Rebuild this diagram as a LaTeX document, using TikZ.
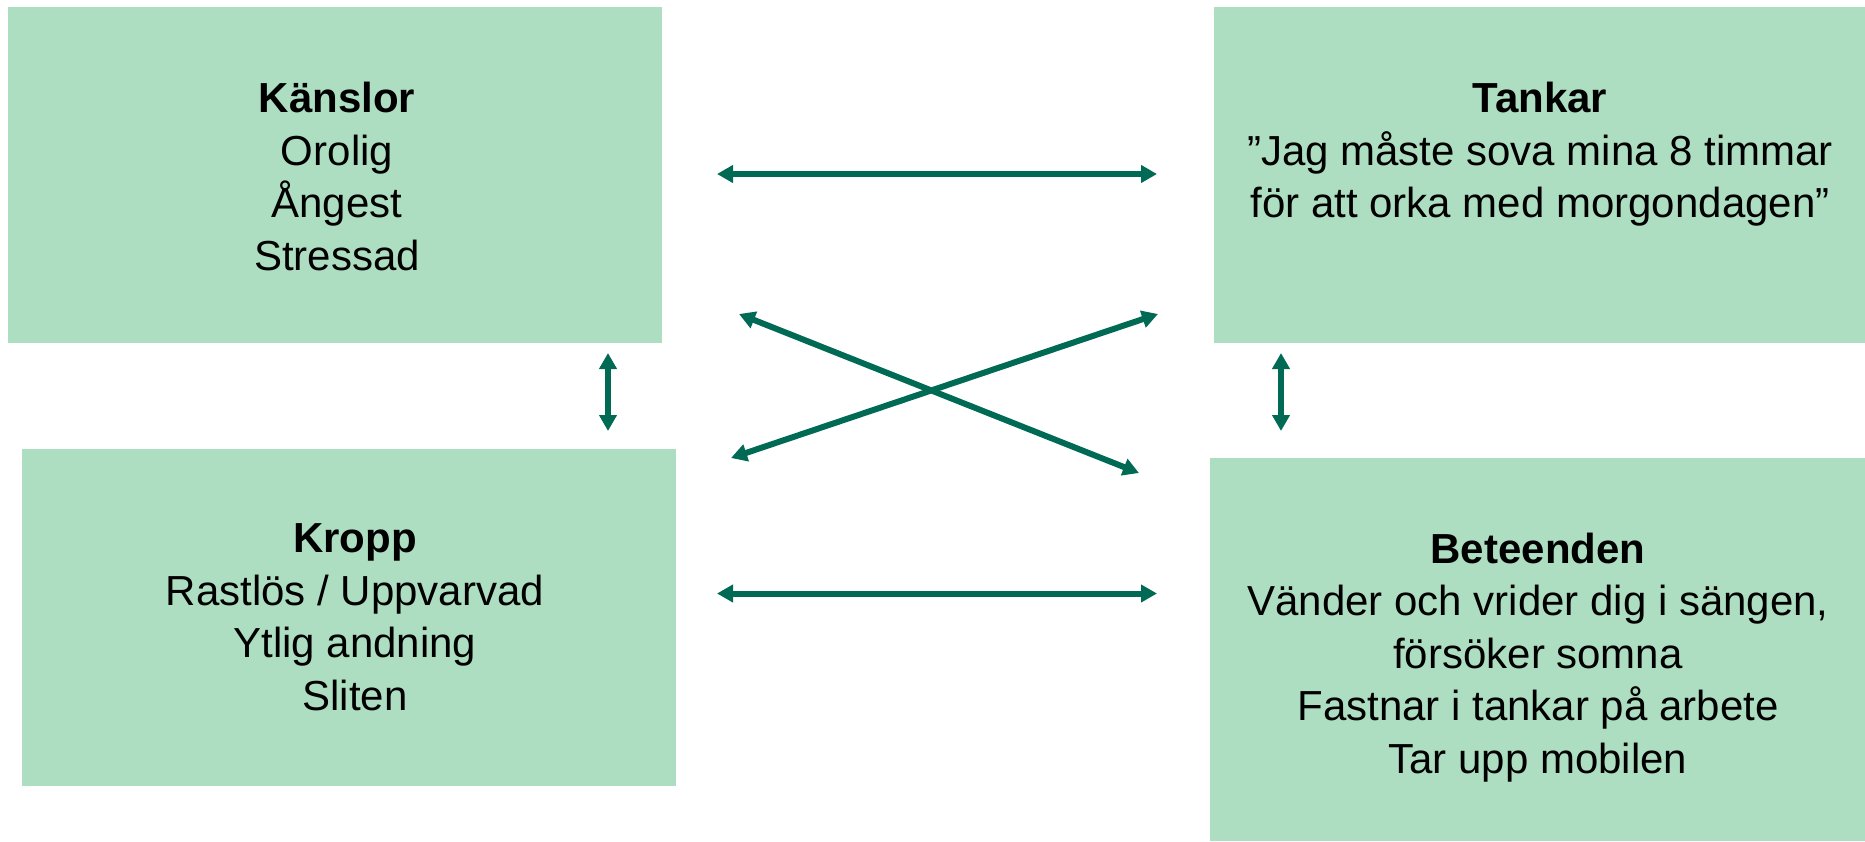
\documentclass[tikz,border=0pt]{standalone}
\usepackage{fontspec}
\setmainfont{Liberation Sans}
\usetikzlibrary{arrows.meta}
\definecolor{boxfill}{RGB}{173,222,194}
\definecolor{linkcol}{RGB}{0,106,85}

\begin{document}
\begin{tikzpicture}[x=1pt,y=-1pt,
  panel/.style={fill=boxfill, draw=none, inner sep=0pt, outer sep=0pt},
  boxtext/.style={inner sep=0pt, align=center, font=\fontsize{42}{52.5}\selectfont},
  link/.style={draw=linkcol, line width=6pt,
    {Triangle[width=17pt,length=16pt]}-{Triangle[width=17pt,length=16pt]}}
]
\useasboundingbox (0,0) rectangle (1865,841);

% four panels
\node[panel, minimum width=654pt, minimum height=336pt] (k)  at (335,175) {};
\node[panel, minimum width=651pt, minimum height=336pt] (t)  at (1539.5,175) {};
\node[panel, minimum width=654pt, minimum height=337pt] (kr) at (349,617.5) {};
\node[panel, minimum width=655pt, minimum height=383pt] (b)  at (1537.5,649.5) {};

% panel texts
\node[boxtext, anchor=north] (k-txt) at (337,82)
  {\textbf{Känslor}\\Orolig\\Ångest\\Stressad};
\node[boxtext, anchor=north] (t-txt) at (1540,82)
  {\textbf{Tankar}\\”Jag måste sova mina 8 timmar\\för att orka med morgondagen”};
\node[boxtext, anchor=north] (kr-txt) at (355,523.5)
  {\textbf{Kropp}\\Rastlös / Uppvarvad\\Ytlig andning\\Sliten};
\node[boxtext, anchor=north] (b-txt) at (1538,532.5)
  {\textbf{Beteenden}\\Vänder och vrider dig i sängen,\\försöker somna\\Fastnar i tankar på arbete\\Tar upp mobilen};

% arrow end points in the gaps between panels
\coordinate (kt-l) at (717,174);
\coordinate (kt-r) at (1157,174);
\coordinate (kb-l) at (717,593.5);
\coordinate (kb-r) at (1157,593.5);
\coordinate (lv-t) at (608,353);
\coordinate (lv-b) at (608,431);
\coordinate (rv-t) at (1281,353);
\coordinate (rv-b) at (1281,431);
\coordinate (da-t) at (739,314);
\coordinate (da-b) at (1139,473);
\coordinate (db-b) at (731,458);
\coordinate (db-t) at (1158,314);

% two-way links
\draw[link] (kt-l) -- (kt-r);
\draw[link] (kb-l) -- (kb-r);
\draw[link] (lv-t) -- (lv-b);
\draw[link] (rv-t) -- (rv-b);
\draw[link] (da-t) -- (da-b);
\draw[link] (db-b) -- (db-t);
\end{tikzpicture}
\end{document}
